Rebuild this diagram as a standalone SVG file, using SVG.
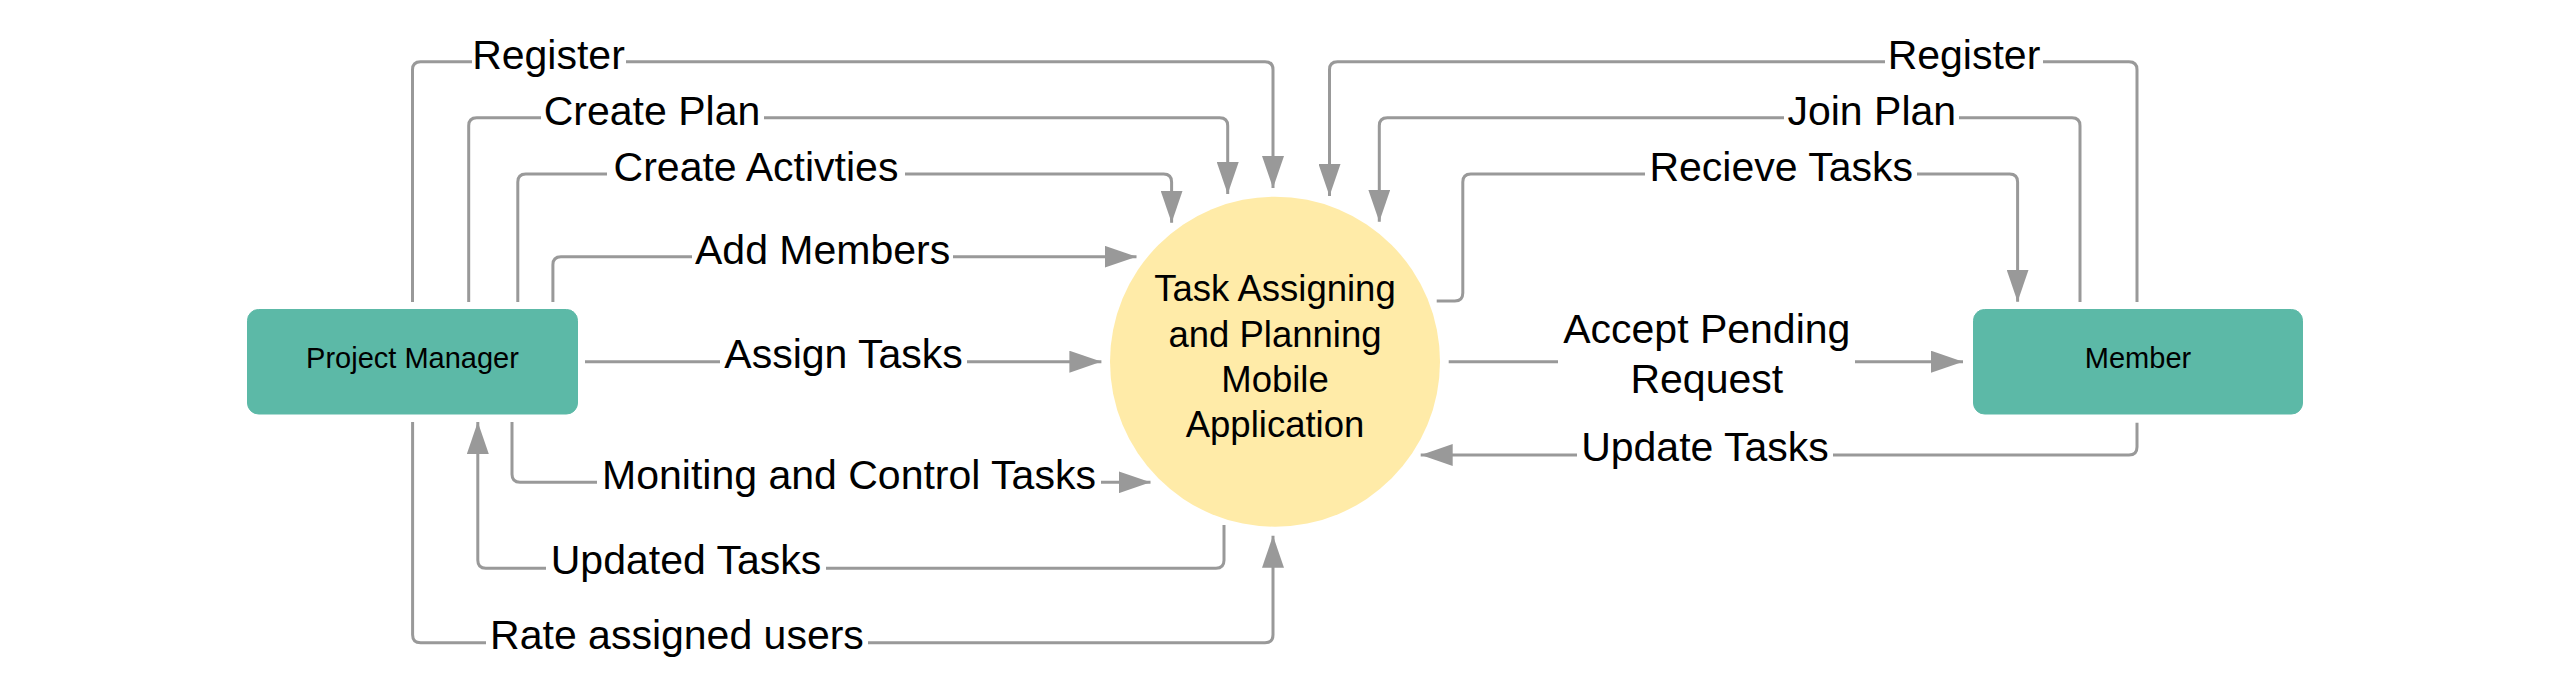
<svg xmlns="http://www.w3.org/2000/svg" width="2550" height="694" viewBox="0 0 2550 694">
<style>
.ln{fill:none;stroke:#999999;stroke-width:3;marker-end:url(#ah)}
.ln2{fill:none;stroke:#999999;stroke-width:3}
.lb{font-family:"Liberation Sans",Arial,sans-serif;font-size:41px;fill:#000;text-anchor:middle}
.bg{fill:#ffffff}
.box{fill:#5cb9a7;stroke:#5cb9a7;stroke-width:1}
.bt{font-family:"Liberation Sans",Arial,sans-serif;font-size:29px;fill:#000;text-anchor:middle}
.ct{font-family:"Liberation Sans",Arial,sans-serif;font-size:36.5px;fill:#000;text-anchor:middle}
</style>
<defs>
<marker id="ah" viewBox="0 0 32 22" refX="32" refY="11" markerWidth="32" markerHeight="22" orient="auto" markerUnits="userSpaceOnUse">
<path d="M0,0 L32,11 L0,22 Z" fill="#999999"/>
</marker>
</defs>
<rect width="2550" height="694" fill="#ffffff"/>
<g id="connectors">
<path class="ln" d="M412.5,302 V69.7 Q412.5,61.7 420.5,61.7 H1265 Q1273,61.7 1273,69.7 V188"/>
<path class="ln" d="M468.7,302 V125.7 Q468.7,117.7 476.7,117.7 H1219.7 Q1227.7,117.7 1227.7,125.7 V194"/>
<path class="ln" d="M517.8,302 V182 Q517.8,174 525.8,174 H1163.6 Q1171.6,174 1171.6,182 V222.7"/>
<path class="ln" d="M552.9,302 V264.7 Q552.9,256.7 560.9,256.7 H1136.5"/>
<path class="ln" d="M585,361.7 H1101.4"/>
<path class="ln" d="M512,422 V474.3 Q512,482.3 520,482.3 H1150.5"/>
<path class="ln" d="M1224,525 V560.3 Q1224,568.3 1216,568.3 H485.8 Q477.8,568.3 477.8,560.3 V422"/>
<path class="ln" d="M412.6,422 V634.7 Q412.6,642.7 420.6,642.7 H1265 Q1273,642.7 1273,634.7 V535.7"/>
<path class="ln" d="M2137,302 V69.7 Q2137,61.7 2129,61.7 H1337.5 Q1329.5,61.7 1329.5,69.7 V196"/>
<path class="ln" d="M2080,302 V125.7 Q2080,117.7 2072,117.7 H1387.3 Q1379.3,117.7 1379.3,125.7 V221.7"/>
<path class="ln" d="M1436.7,301 H1454.8 Q1462.8,301 1462.8,293 V182 Q1462.8,174 1470.8,174 H2009.6 Q2017.6,174 2017.6,182 V301.7"/>
<path class="ln" d="M1448.7,361.7 H1963"/>
<path class="ln" d="M2137,422.7 V447 Q2137,455 2129,455 H1420.7"/>

<rect class="bg" x="472" y="40" width="154" height="42"/>
<text class="lb" x="548.5" y="68.5">Register</text>
<rect class="bg" x="541" y="96" width="223" height="42"/>
<text class="lb" x="652" y="125">Create Plan</text>
<rect class="bg" x="607" y="153" width="298" height="42"/>
<text class="lb" x="756" y="181">Create Activties</text>
<rect class="bg" x="692" y="236" width="261" height="42"/>
<text class="lb" x="822.6" y="263.5">Add Members</text>
<rect class="bg" x="720" y="341" width="247" height="42"/>
<text class="lb" x="843.6" y="368">Assign Tasks</text>
<rect class="bg" x="597" y="461" width="504" height="42"/>
<text class="lb" x="849" y="489">Moniting and Control Tasks</text>
<rect class="bg" x="546" y="547" width="280" height="42"/>
<text class="lb" x="686" y="574">Updated Tasks</text>
<rect class="bg" x="486" y="621" width="382" height="42"/>
<text class="lb" x="677" y="649">Rate assigned users</text>
<rect class="bg" x="1885" y="40" width="158" height="42"/>
<text class="lb" x="1964" y="68.5">Register</text>
<rect class="bg" x="1784" y="96" width="175" height="42"/>
<text class="lb" x="1871.8" y="125">Join Plan</text>
<rect class="bg" x="1645" y="153" width="272" height="42"/>
<text class="lb" x="1781.2" y="181">Recieve Tasks</text>
<rect class="bg" x="1558" y="310" width="297" height="96"/>
<text class="lb" x="1706.8" y="343">Accept Pending</text>
<text class="lb" x="1706.8" y="393">Request</text>
<rect class="bg" x="1577" y="434" width="256" height="42"/>
<text class="lb" x="1705" y="461">Update Tasks</text>
</g>
<g id="project-manager">
<rect class="box" x="247.5" y="309.5" width="330" height="104.5" rx="11" ry="11"/>
<text class="bt" x="412.5" y="368.3">Project Manager</text>
</g>
<g id="app">
<circle cx="1275" cy="361.7" r="165" fill="#ffeba8"/>
<text class="ct" x="1275" y="301">Task Assigning</text>
<text class="ct" x="1275" y="346.5">and Planning</text>
<text class="ct" x="1275" y="391.7">Mobile</text>
<text class="ct" x="1275" y="436.7">Application</text>
</g>
<g id="member">
<rect class="box" x="1973.5" y="309.5" width="329" height="104.5" rx="11" ry="11"/>
<text class="bt" x="2138" y="368.3">Member</text>
</g>
</svg>
